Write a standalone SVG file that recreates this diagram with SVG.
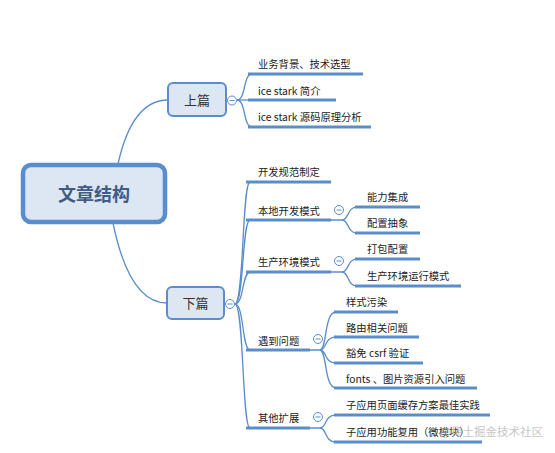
<svg xmlns="http://www.w3.org/2000/svg" width="555" height="453" viewBox="0 0 555 453">
<style>
.bg{fill:#ffffff}
.conn{fill:none;stroke:#5b8dcb;stroke-width:1.3}
.ul{fill:none;stroke:#5b8dcb;stroke-width:3;stroke-linecap:butt}
.root{fill:#dde7f4;stroke:#5a8dcd;stroke-width:4.5}
.main{fill:#dde7f4;stroke:#5a8dcd;stroke-width:2}
.btn{fill:#ffffff;stroke:#5b8dcb;stroke-width:1}
.btnm{stroke:#5b8dcb;stroke-width:1}
.t{font-family:"Noto Sans CJK SC","Liberation Sans",sans-serif;font-size:10.3px;fill:#222}
.tm{font-family:"Noto Sans CJK SC","Liberation Sans",sans-serif;font-size:13px;fill:#333;text-anchor:middle}
.tr{font-family:"Noto Sans CJK SC","Liberation Sans",sans-serif;font-size:18px;font-weight:bold;fill:#3e5c84;text-anchor:middle}
.wm{font-family:"Noto Sans CJK SC","Liberation Sans",sans-serif;font-size:11.5px;fill:#bdbdbd;opacity:0.85}
</style>
<rect class="bg" x="0" y="0" width="555" height="453"/>
<g id="connectors">
  <!-- root to main -->
  <path class="conn" d="M118,164 C126,128 140,100 168,100"/>
  <path class="conn" d="M113,223 C121,262 136,303 167,303"/>
  <!-- 上篇 children -->
  <path class="conn" d="M237,100 C246,100 243,74 252,74"/>
  <path class="conn" d="M237,100 L252,100"/>
  <path class="conn" d="M237,100 C246,100 243,127 252,127"/>
  <path class="ul" d="M248,74 L363,74"/>
  <path class="ul" d="M248,100 L336,100"/>
  <path class="ul" d="M248,127 L371,127"/>
  <!-- 下篇 children -->
  <path class="conn" d="M235,304 C244,304 242,182 250,182"/>
  <path class="conn" d="M235,304 C244,304 242,220 250,220"/>
  <path class="conn" d="M235,304 C244,304 242,272 250,272"/>
  <path class="conn" d="M235,304 C244,304 242,350 250,350"/>
  <path class="conn" d="M235,304 C244,304 242,428 250,428"/>
  <path class="ul" d="M246,182 L331,182"/>
  <path class="ul" d="M246,220 L331,220"/>
  <path class="ul" d="M246,272 L331,272"/>
  <path class="ul" d="M246,350 L310,350"/>
  <path class="ul" d="M246,428 L310,428"/>
  <!-- 本地开发模式 children -->
  <path class="conn" d="M331,220 L342,220 C349,220 347,207 357,207"/>
  <path class="conn" d="M342,220 C349,220 347,233 357,233"/>
  <path class="ul" d="M355,207 L420,207"/>
  <path class="ul" d="M355,233 L420,233"/>
  <!-- 生产环境模式 children -->
  <path class="conn" d="M331,272 L342,272 C349,272 347,259 357,259"/>
  <path class="conn" d="M342,272 C349,272 347,286 357,286"/>
  <path class="ul" d="M355,259 L420,259"/>
  <path class="ul" d="M355,286 L461,286"/>
  <!-- 遇到问题 children -->
  <path class="conn" d="M310,350 L320,350 C327,350 324,312 336,312"/>
  <path class="conn" d="M320,350 C327,350 324,337 336,337"/>
  <path class="conn" d="M320,350 C327,350 324,363 336,363"/>
  <path class="conn" d="M320,350 C327,350 324,388 336,388"/>
  <path class="ul" d="M334,312 L398,312"/>
  <path class="ul" d="M334,337 L419,337"/>
  <path class="ul" d="M334,363 L423,363"/>
  <path class="ul" d="M334,388 L477,388"/>
  <!-- 其他扩展 children -->
  <path class="conn" d="M310,428 L320,428 C327,428 324,415 336,415"/>
  <path class="conn" d="M320,428 C327,428 324,442 336,442"/>
  <path class="ul" d="M334,415 L490,415"/>
  <path class="ul" d="M334,442 L482,442"/>
</g>
<g id="root">
  <rect class="root" x="23" y="165" width="142" height="57" rx="8"/>
  <text class="tr" x="94" y="200.5">文章结构</text>
</g>
<g id="n-shang">
  <rect class="main" x="168" y="83" width="58" height="33" rx="5"/>
  <text class="tm" x="197" y="104.5">上篇</text>
  <circle class="btn" cx="232" cy="100.5" r="4.5"/>
  <line class="btnm" x1="229.5" y1="100.5" x2="234.5" y2="100.5"/>
</g>
<g id="n-xia">
  <rect class="main" x="167" y="287" width="57" height="32" rx="5"/>
  <text class="tm" x="195.5" y="307.5">下篇</text>
  <circle class="btn" cx="230" cy="304" r="4.5"/>
  <line class="btnm" x1="227.5" y1="304" x2="232.5" y2="304"/>
</g>
<g id="n1"><text class="t" x="258" y="68">业务背景、技术选型</text></g>
<g id="n2"><text class="t" x="258" y="95">ice stark 简介</text></g>
<g id="n3"><text class="t" x="258" y="121">ice stark 源码原理分析</text></g>
<g id="n4"><text class="t" x="258" y="176">开发规范制定</text></g>
<g id="n5">
  <text class="t" x="258" y="215">本地开发模式</text>
  <circle class="btn" cx="339" cy="210" r="4.5"/>
  <line class="btnm" x1="336.5" y1="210" x2="341.5" y2="210"/>
</g>
<g id="n6"><text class="t" x="367" y="201">能力集成</text></g>
<g id="n7"><text class="t" x="367" y="227">配置抽象</text></g>
<g id="n8">
  <text class="t" x="258" y="266">生产环境模式</text>
  <circle class="btn" cx="339" cy="261" r="4.5"/>
  <line class="btnm" x1="336.5" y1="261" x2="341.5" y2="261"/>
</g>
<g id="n9"><text class="t" x="367" y="253">打包配置</text></g>
<g id="n10"><text class="t" x="367" y="280">生产环境运行模式</text></g>
<g id="n11">
  <text class="t" x="258" y="345">遇到问题</text>
  <circle class="btn" cx="318" cy="339" r="4.5"/>
  <line class="btnm" x1="315.5" y1="339" x2="320.5" y2="339"/>
</g>
<g id="n12"><text class="t" x="346" y="306">样式污染</text></g>
<g id="n13"><text class="t" x="346" y="332">路由相关问题</text></g>
<g id="n14"><text class="t" x="346" y="357">豁免 csrf 验证</text></g>
<g id="n15"><text class="t" x="346" y="383">fonts 、图片资源引入问题</text></g>
<g id="n16">
  <text class="t" x="258" y="422">其他扩展</text>
  <circle class="btn" cx="318" cy="417" r="4.5"/>
  <line class="btnm" x1="315.5" y1="417" x2="320.5" y2="417"/>
</g>
<g id="n17"><text class="t" x="346" y="409">子应用页面缓存方案最佳实践</text></g>
<g id="n18"><text class="t" x="346" y="436">子应用功能复用（微模块）</text></g>
<text class="wm" x="440" y="436">@稀土掘金技术社区</text>
</svg>
